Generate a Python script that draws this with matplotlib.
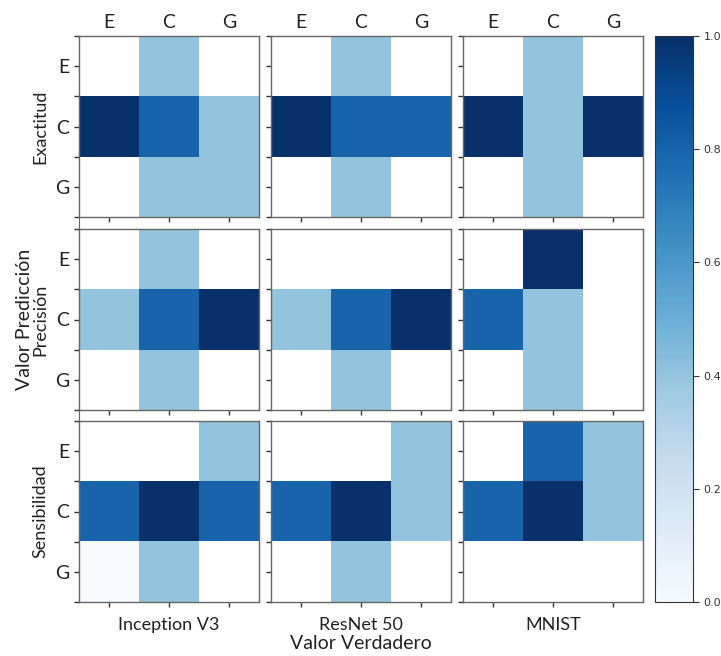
import numpy as np
import matplotlib
matplotlib.use("Agg")
import matplotlib.pyplot as plt
from matplotlib.ticker import FixedLocator

nan = np.nan
classes = ["E", "C", "G"]
models = ["Inception V3", "ResNet 50", "MNIST"]
metrics = ["Exactitud", "Precisión", "Sensibilidad"]

# rows: predicted (E, C, G); cols: true (E, C, G); NaN = empty cell
exactitud_inception = [[nan, 0.4, nan], [1.0, 0.8, 0.4], [nan, 0.4, 0.4]]
exactitud_resnet = [[nan, 0.4, nan], [1.0, 0.8, 0.8], [nan, 0.4, nan]]
exactitud_mnist = [[nan, 0.4, nan], [1.0, 0.4, 1.0], [nan, 0.4, nan]]
precision_inception = [[nan, 0.4, nan], [0.4, 0.8, 1.0], [nan, 0.4, nan]]
precision_resnet = [[nan, nan, nan], [0.4, 0.8, 1.0], [nan, 0.4, nan]]
precision_mnist = [[nan, 1.0, nan], [0.8, 0.4, nan], [nan, 0.4, nan]]
sensibilidad_inception = [[nan, nan, 0.4], [0.8, 1.0, 0.8], [0.0, 0.4, nan]]
sensibilidad_resnet = [[nan, nan, 0.4], [0.8, 1.0, 0.4], [nan, 0.4, nan]]
sensibilidad_mnist = [[nan, 0.8, 0.4], [0.8, 1.0, 0.4], [nan, nan, nan]]

grid = [
    [exactitud_inception, exactitud_resnet, exactitud_mnist],
    [precision_inception, precision_resnet, precision_mnist],
    [sensibilidad_inception, sensibilidad_resnet, sensibilidad_mnist],
]

FONT = "Lato"
TXT = "#222222"
W, H = 721, 656
fig = plt.figure(figsize=(W / 100, H / 100), dpi=100)

def rect(l, t, w, h):
    return [l / W, 1 - (t + h) / H, w / W, h / H]

col_left = [79, 271, 463]
row_top = [36, 229, 421]
aw, ah = 180, 181

cmap = plt.get_cmap("Blues").copy()
cmap.set_bad("white")

# background axes for global labels and continuous left spine
bg = fig.add_axes(rect(79, 36, 643 - 79, 602 - 36))
bg.patch.set_visible(False)
for s in ["top", "right", "bottom"]:
    bg.spines[s].set_visible(False)
bg.spines["left"].set_color("#666666")
bg.set_xticks([])
bg.set_yticks([])
bg.set_ylabel("Valor Predicción", fontsize=14, family=FONT, color=TXT, labelpad=33)
bg.set_xlabel("Valor Verdadero", fontsize=14, family=FONT, color=TXT, labelpad=24)

im = None
for r in range(3):
    for c in range(3):
        ax = fig.add_axes(rect(col_left[c], row_top[r], aw, ah))
        data = np.ma.masked_invalid(np.array(grid[r][c], dtype=float))
        im = ax.imshow(data, cmap=cmap, vmin=0, vmax=1, aspect="auto",
                       interpolation="nearest")
        for s in ax.spines.values():
            s.set_color("#666666")
            s.set_linewidth(1.0)
        ax.set_xticks([0, 1, 2])
        ax.set_yticks([0, 1, 2])
        ax.yaxis.set_minor_locator(FixedLocator([-0.5, 0.5, 1.5, 2.5]))
        ax.tick_params(which="both", length=3.5, width=1, color="#333333")
        ax.tick_params(axis="x", which="minor", length=0)
        ax.set_xticklabels([])
        ax.set_yticklabels([])
        if c == 0:
            ax.set_yticklabels(classes, fontsize=14, family=FONT, color=TXT)
            ax.set_ylabel(metrics[r], fontsize=13, family=FONT, color=TXT, labelpad=5)
        if r == 0:
            ax.tick_params(axis="x", labeltop=True, labelbottom=False, top=False)
            ax.set_xticklabels(classes, fontsize=14, family=FONT, color=TXT)
            ax.tick_params(axis="x", pad=0)
        if r == 2:
            ax.set_xlabel(models[c], fontsize=13, family=FONT, color=TXT, labelpad=4)

cax = fig.add_axes(rect(655, 36, 38, 566))
cb = fig.colorbar(im, cax=cax, ticks=[0.0, 0.2, 0.4, 0.6, 0.8, 1.0])
cb.outline.set_edgecolor("#333333")
cb.ax.tick_params(labelsize=8, length=4, colors="#333333")
cb.ax.set_yticklabels(["0.0", "0.2", "0.4", "0.6", "0.8", "1.0"])

fig.savefig("out.png", dpi=100)
